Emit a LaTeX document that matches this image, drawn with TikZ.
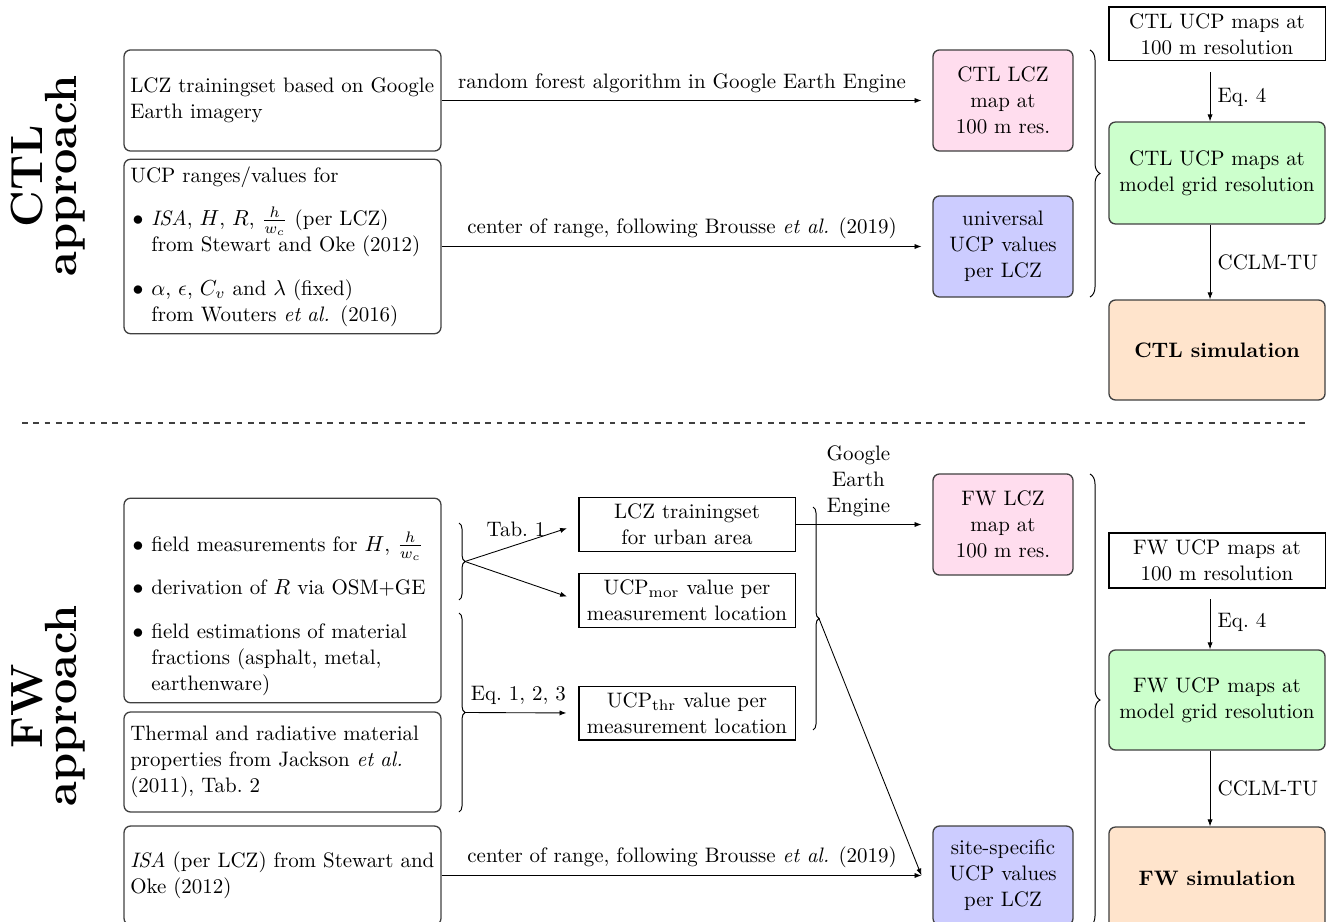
\documentclass[tikz,border=0pt]{standalone}
\usetikzlibrary{arrows.meta,decorations.pathreplacing,calc}
\definecolor{pinkbox}{RGB}{255,221,238}
\definecolor{bluebox}{RGB}{204,204,255}
\definecolor{greenbox}{RGB}{204,255,204}
\definecolor{orangebox}{RGB}{255,228,204}
\newcommand{\itm}{\makebox[9.7pt][l]{\hspace{1pt}$\bullet$}}
\newcommand{\ind}{\hspace*{9.7pt}}
\begin{document}
\begin{tikzpicture}[x=0.46pt,y=-0.46pt,
  every node/.style={font=\fontsize{9.63}{12}\selectfont},
  rbox/.style={draw=black!75, line width=0.6pt, rounded corners=3pt, inner sep=3.3pt},
  lbox/.style={rbox, align=left, text width=140pt, inner xsep=2.9pt, minimum width=145.8pt},
  cbox/.style={rbox, align=center, minimum width=64.4pt, minimum height=46.5pt},
  sbox/.style={draw=black, line width=0.5pt, align=center, minimum width=99.4pt, inner ysep=1.5pt},
  gbox/.style={rbox, fill=greenbox, align=center, minimum width=99.4pt},
  obox/.style={rbox, fill=orangebox, align=center, minimum width=99.4pt},
  arr/.style={-{Latex[length=3.2pt,width=2.4pt]}, line width=0.4pt},
  brc/.style={decorate, decoration={brace, amplitude=#1}, line width=0.45pt},
  brc/.default=2.8pt,
  title/.style={rotate=90, align=center, font=\fontsize{20.74}{14.3}\selectfont\bfseries},
  sep/.style={dash pattern=on 2.6pt off 2.6pt, line width=0.5pt, black!75}
]
\useasboundingbox (0,0) rectangle (1326,922);

% ---------- titles ----------
\node[title] (ctlT) at (48,176) {CTL\\approach};
\node[title] (fwT) at (48,706) {FW\\approach};

% ---------- CTL section ----------
\node[lbox, minimum height=46.5pt] (A1) at (282.5,100.5)
  {LCZ trainingset based on Google\\Earth imagery};
\node[lbox, minimum height=79.6pt] (A2) at (282.5,246.5)
  {UCP ranges/values for\\[8pt]
   \itm\textit{ISA}, $H$, $R$, $\frac{h}{w_c}$ (per LCZ)\\
   \ind from Stewart and Oke (2012)\\[8pt]
   \itm$\alpha$, $\epsilon$, $C_v$ and $\lambda$ (fixed)\\
   \ind from Wouters \textit{et al.} (2016)};

\node[cbox, fill=pinkbox] (ctlLCZ) at (1003,100.5) {CTL LCZ\\map at\\100 m res.};
\node[cbox, fill=bluebox] (univ) at (1003,246.5) {universal\\UCP values\\per LCZ};

\node[sbox, minimum height=24.8pt] (ctl100) at (1217,34) {CTL UCP maps at\\100 m resolution};
\node[gbox, minimum height=46.9pt] (ctlGrid) at (1217,173) {CTL UCP maps at\\model grid resolution};
\node[obox, minimum height=46pt] (ctlSim) at (1217,350) {\textbf{CTL simulation}};

\draw[arr, shorten >=5pt] (A1.east) -- node[above, pos=0.49] {random forest algorithm in Google Earth Engine} (ctlLCZ.west);
\draw[arr, shorten >=5pt] (A2.east) -- node[above, pos=0.49] {center of range, following Brousse \textit{et al.} (2019)} (univ.west);
\draw[brc=4.6pt] (1090,50) -- (1090,297);
\draw[arr, shorten <=5pt] ([xshift=-3.2pt]ctl100.south) -- node[right, pos=0.6] {Eq.~4} ([xshift=-3.2pt]ctlGrid.north);
\draw[arr] ([xshift=-3.2pt]ctlGrid.south) -- node[right] {CCLM-TU} ([xshift=-3.2pt]ctlSim.north);

% ---------- separator ----------
\coordinate (dl) at (22,423);
\coordinate (dr) at (1307,423);
\draw[sep] (dl) -- (dr);

% ---------- FW section ----------
\node[lbox, minimum height=92.5pt] (B1) at (282.5,600.5)
  {\itm field measurements for $H$, $\frac{h}{w_c}$\rule{0pt}{21pt}\\[7.8pt]
   \itm derivation of $R$ via OSM+GE\\[8.3pt]
   \itm field estimations of material\\
   \ind fractions (asphalt, metal,\\
   \ind earthenware)};
\node[lbox, minimum height=46pt] (B2) at (282.5,762)
  {Thermal and radiative material\\properties from Jackson \textit{et al.}\\(2011), Tab.~2};
\node[lbox, minimum height=45.5pt] (B3) at (282.5,875.5)
  {\textit{ISA} (per LCZ) from Stewart and\\Oke (2012)};

\node[sbox, minimum height=24.8pt] (LCZtr) at (687,524.5) {LCZ trainingset\\for urban area};
\node[sbox, minimum height=24.8pt] (UCPmor) at (687,600.5) {UCP$_{\mathrm{mor}}$ value per\\measurement location};
\node[sbox, minimum height=24.8pt] (UCPthr) at (687,713) {UCP$_{\mathrm{thr}}$ value per\\measurement location};

\node[cbox, fill=pinkbox] (fwLCZ) at (1003,524.5) {FW LCZ\\map at\\100 m res.};
\node[cbox, fill=bluebox, minimum height=45.5pt] (site) at (1003,875.5) {site-specific\\UCP values\\per LCZ};

\node[sbox, minimum height=25.3pt] (fw100) at (1217,560.5) {FW UCP maps at\\100 m resolution};
\node[gbox, minimum height=46pt] (fwGrid) at (1217,700) {FW UCP maps at\\model grid resolution};
\node[obox, minimum height=46.9pt] (fwSim) at (1217,878) {\textbf{FW simulation}};

% braces
\draw[brc] (459,523) -- (459,600);
\draw[brc] (459,613) -- (459,812);
\draw[brc] (813,507) -- (813,730);
\draw[brc=4.6pt] (1090,474) -- (1090,926);
\coordinate (t1) at (465,561.5);
\coordinate (t2) at (465,712.5);
\coordinate (t3) at (819,618.5);

\draw[arr, shorten >=5.5pt] (t1) -- node[above, pos=0.45] {Tab.~1} (LCZtr.west);
\draw[arr, shorten >=5.5pt] (t1) -- (UCPmor.west);
\draw[arr, shorten >=5.5pt] (t2) -- node[above, pos=0.47] {Eq.~1, 2, 3} (UCPthr.west);
\draw[arr, shorten >=5pt] (LCZtr.east) -- node[above, align=center, pos=0.46] {Google\\Earth\\Engine} (fwLCZ.west);
\draw[arr] (t3) -- ([xshift=-5pt]site.west);
\draw[arr, shorten >=5pt] (B3.east) -- node[above, pos=0.49] {center of range, following Brousse \textit{et al.} (2019)} (site.west);
\draw[arr, shorten <=5pt] ([xshift=-3.2pt]fw100.south) -- node[right, pos=0.56] {Eq.~4} ([xshift=-3.2pt]fwGrid.north);
\draw[arr] ([xshift=-3.2pt]fwGrid.south) -- node[right] {CCLM-TU} ([xshift=-3.2pt]fwSim.north);
\end{tikzpicture}
\end{document}
